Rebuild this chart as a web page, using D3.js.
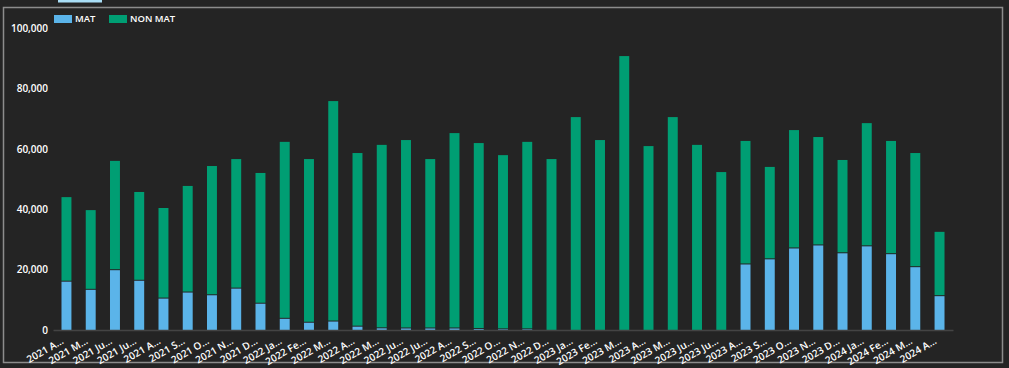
<!DOCTYPE html>
<html>
<head>
<meta charset="utf-8">
<script src="https://cdn.jsdelivr.net/npm/d3@7"></script>
<style>
  body { margin: 0; background: #242424; }
  svg { display: block; }
  text { font-family: "Open Sans", "Noto Sans", sans-serif; }
</style>
</head>
<body>
<svg></svg>
<script>
var width = 1009;
var height = 368;

var months = ["2021 A…", "2021 M…", "2021 Ju…", "2021 Ju…", "2021 A…", "2021 S…", "2021 O…", "2021 N…", "2021 D…",
    "2022 Ja…", "2022 Fe…", "2022 M…", "2022 A…", "2022 M…", "2022 Ju…", "2022 Ju…", "2022 A…", "2022 S…", "2022 O…", "2022 N…", "2022 D…",
    "2023 Ja…", "2023 Fe…", "2023 M…", "2023 A…", "2023 M…", "2023 Ju…", "2023 Ju…", "2023 A…", "2023 S…", "2023 O…", "2023 N…", "2023 D…",
    "2024 Ja…", "2024 Fe…", "2024 M…", "2024 A…"];
// MAT part of each bar
var mat = [16000, 13300, 19800, 16300, 10400, 12400, 11500, 13700, 8700,
    3700, 2400, 2800, 1100, 550, 500, 500, 500, 300, 200, 200, 0,
    0, 0, 0, 0, 0, 0, 0, 21700, 23400, 27000, 28000, 25400,
    27700, 25100, 20800, 11200];
// total of the bar (MAT + NON MAT)
var total = [44000, 39700, 56000, 45700, 40400, 47700, 54300, 56600, 52000,
    62300, 56600, 75800, 58600, 61300, 62900, 56600, 65200, 61900, 57900, 62300, 56600,
    70500, 62900, 90700, 60900, 70500, 61300, 52300, 62600, 54000, 66200, 63900, 56300,
    68500, 62600, 58600, 32500];
var nonMat = total.map((t, i) => t - mat[i]);
var yTicks = [0, 20000, 40000, 60000, 80000, 100000];
var seriesNames = ["MAT", "NON MAT"];
var color = ["#5bb4e9", "#009e73"];

const svg = d3.select('svg')
    .attr('width', width)
    .attr('height', height);

// outer frame and little tab on top
svg.append("rect")
    .attr("x", 3.5).attr("y", 7.5)
    .attr("width", 999).attr("height", 355)
    .attr("fill", "none")
    .attr("stroke", "#8c8c8c")
    .attr("stroke-width", 1.5);
svg.append("rect")
    .attr("x", 58).attr("y", 0)
    .attr("width", 44).attr("height", 2.5)
    .attr("fill", "#a9def6");

const x = d3.scaleBand()
    .domain(d3.range(months.length))
    .range([53, 953])
    .paddingInner(0.59)
    .paddingOuter(0.35);

const y = d3.scaleLinear()
    .domain([0, 100000])
    .range([330, 28]);

// y axis labels
const yAxis = svg.append("g")
    .attr("transform", "translate(48,0)")
    .call(d3.axisLeft(y).tickValues(yTicks).tickFormat(d3.format(",")).tickSize(0).tickPadding(0));
yAxis.select(".domain").remove();
yAxis.selectAll("text")
    .attr("fill", "#ffffff")
    .attr("font-size", 10)
    .attr("font-weight", 600);

// bars
const g = svg.append("g");
g.selectAll("rect.mat")
    .data(mat)
    .join("rect")
    .attr("class", "mat")
    .attr("x", (d, i) => x(i))
    .attr("width", x.bandwidth())
    .attr("y", d => y(d))
    .attr("height", d => y(0) - y(d))
    .attr("fill", color[0]);
g.selectAll("rect.nonmat")
    .data(nonMat)
    .join("rect")
    .attr("class", "nonmat")
    .attr("x", (d, i) => x(i))
    .attr("width", x.bandwidth())
    .attr("y", (d, i) => y(total[i]))
    .attr("height", (d, i) => Math.max(0, y(mat[i]) - y(total[i]) - (mat[i] > 0 ? 1 : 0)))
    .attr("fill", color[1]);

// x axis
const xAxis = svg.append("g")
    .attr("transform", "translate(0,330)")
    .call(d3.axisBottom(x).tickFormat(i => months[i]).tickSize(0).tickPadding(0));
xAxis.select(".domain")
    .attr("stroke", "#444444")
    .attr("stroke-width", 1.5);
xAxis.selectAll("text")
    .attr("fill", "#ffffff")
    .attr("font-size", 10)
    .attr("font-weight", 600)
    .attr("text-anchor", "end")
    .attr("transform", "translate(-4,10) rotate(-30)")
    .attr("dy", "0.35em");

// legend
const legend = svg.append("g");
var legendX = [54, 109];
seriesNames.forEach((name, i) => {
    legend.append("rect")
        .attr("x", legendX[i]).attr("y", 15)
        .attr("width", 18).attr("height", 8)
        .attr("fill", color[i]);
    legend.append("text")
        .attr("x", legendX[i] + 21).attr("y", 19)
        .attr("dy", "0.35em")
        .attr("fill", "#ffffff")
        .attr("font-size", 9.5)
        .attr("font-weight", 600)
        .text(name);
});
</script>
</body>
</html>
